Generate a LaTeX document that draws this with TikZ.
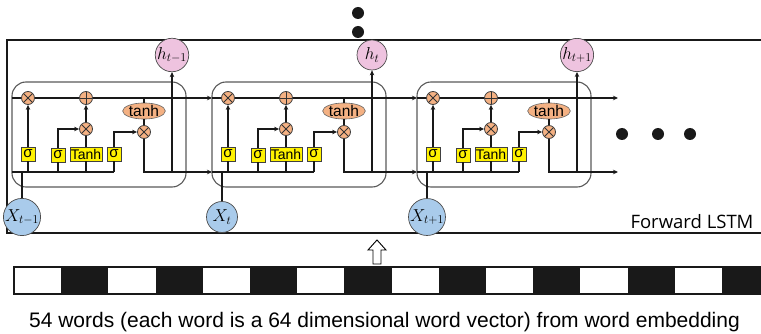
\documentclass[tikz,border=0pt]{standalone}
\usepackage{fontspec}
\setmainfont{Liberation Sans}
\newfontfamily\fwdfont{Open Sans}
\usetikzlibrary{arrows.meta,shapes.geometric}
\definecolor{orangec}{HTML}{F4B183}
\definecolor{gateyellow}{HTML}{FFF200}
\definecolor{hpink}{HTML}{EEC3DF}
\definecolor{xblue}{HTML}{A9CBEB}
\begin{document}
\begin{tikzpicture}[x=1pt,y=-1pt,
  flow/.style={line width=1.6pt, draw=black!90},
  arr/.style={flow, -{Stealth[length=5pt,width=4.5pt]}},
  cellbox/.style={draw=black!65, line width=1.1pt, rounded corners=14pt},
  mult/.style={circle, draw=black!75, line width=0.8pt, fill=orangec, minimum size=13pt, inner sep=0pt,
    path picture={\draw[black!80,line width=0.8pt] (path picture bounding box.north west)--(path picture bounding box.south east) (path picture bounding box.north east)--(path picture bounding box.south west);}},
  plusn/.style={circle, draw=black!75, line width=0.8pt, fill=orangec, minimum size=13pt, inner sep=0pt,
    path picture={\draw[black!80,line width=0.8pt] (path picture bounding box.north)--(path picture bounding box.south) (path picture bounding box.east)--(path picture bounding box.west);}},
  gate/.style={rectangle, draw=black!75, line width=0.8pt, fill=gateyellow, minimum height=14pt, minimum width=14pt, inner sep=0pt, font=\fontsize{15}{15}\selectfont},
  tanhn/.style={ellipse, draw=black!60, line width=0.6pt, fill=orangec, minimum width=39pt, minimum height=13pt, inner sep=0pt, font=\fontsize{15.5}{15.5}\selectfont},
  hnode/.style={circle, draw=black!70, line width=0.7pt, fill=hpink, minimum size=30pt, inner sep=0pt, font=\fontsize{17}{17}\selectfont},
  xnode/.style={circle, draw=black!70, line width=0.7pt, fill=xblue, minimum size=31pt, inner sep=0pt, font=\fontsize{18}{18}\selectfont},
  bigdot/.style={circle, fill=black!90, minimum size=12pt, inner sep=0pt}
]
\useasboundingbox (0,0) rectangle (761,334);
% outer frame
\draw[line width=1.3pt, draw=black!90] (7,40) rectangle (775,233);
% vertical dots
\node[bigdot] (vd1) at (358,13) {};
\node[bigdot] (vd2) at (358,32) {};
% horizontal dots
\node[bigdot] (hd1) at (622,134) {};
\node[bigdot] (hd2) at (658,134) {};
\node[bigdot] (hd3) at (690,134) {};
\node[anchor=base east, font=\fwdfont\fontsize{18.5}{18.5}\selectfont] (fwd) at (757,228.5) {Forward LSTM};

\foreach \i/\ox/\nx/\sub in {1/12/212/{t-1}, 2/212/417/{t}, 3/417/618/{t+1}} {
  \draw[cellbox] (\ox,82) rectangle ++(174,105);
  \node[mult] (f-\i) at (\ox+16,98) {};
  \node[plusn] (p-\i) at (\ox+74,98) {};
  \node[mult] (m-\i) at (\ox+74,129) {};
  \node[mult] (o-\i) at (\ox+132,132) {};
  \node[tanhn] (th-\i) at (\ox+132,111) {tanh};
  \node[gate] (g1-\i) at (\ox+16,154) {σ};
  \node[gate] (g2-\i) at (\ox+46,155) {σ};
  \node[gate, minimum width=32pt, font=\fontsize{14}{14}\selectfont] (tg-\i) at (\ox+74,154) {Tanh};
  \node[gate] (g3-\i) at (\ox+102,154) {σ};
  \node[hnode] (h-\i) at (\ox+160,55) {$h_{\sub}$};
  \node[xnode] (x-\i) at (\ox+10,217) {$X_{\sub}$};
  \coordinate (tl-\i) at (\ox,98);
  \coordinate (bl-\i) at (\ox,172);
  \coordinate (tn-\i) at (\nx,98);
  \coordinate (bn-\i) at (\nx,172);
  \coordinate (b3-\i) at (\ox+102,172);
  % cell state line
  \draw[flow] (tl-\i) -- (f-\i);
  \draw[flow] (f-\i) -- (p-\i);
  \draw[arr] (p-\i) -- (tn-\i);
  % hidden/input line
  \draw[flow] (bl-\i) -- (b3-\i);
  \draw[flow] (x-\i) -- (\ox+10,172);
  % gates
  \draw[flow] (\ox+16,172) -- (g1-\i.south);
  \draw[arr] (g1-\i) -- (f-\i);
  \draw[flow] (\ox+46,172) -- (g2-\i.south);
  \draw[arr] (g2-\i.north) |- (m-\i);
  \draw[flow] (\ox+74,172) -- (tg-\i.south);
  \draw[flow] (tg-\i) -- (m-\i);
  \draw[arr] (m-\i) -- (p-\i);
  \draw[flow] (b3-\i) -- (g3-\i.south);
  \draw[arr] (g3-\i.north) |- (o-\i);
  \draw[flow] (\ox+132,98) -- (th-\i);
  \draw[flow] (th-\i) -- (o-\i);
  \draw[arr] (o-\i) |- (bn-\i);
  \draw[arr] (\ox+160,172) -- (h-\i);
}
% input arrow
\draw[line width=0.9pt, fill=white] (373,264) -- (381,264) -- (381,250) -- (386,250) -- (377,240) -- (368,250) -- (373,250) -- cycle;
% word strip
\foreach \k in {1,3,...,15} \fill[black!90] (14+47.2*\k,267) rectangle ++(47.2,27);
\draw[line width=1.2pt, draw=black!90] (14,267) rectangle (775,294);
\node[anchor=base, font=\fontsize{21}{21}\selectfont] (cap) at (384.5,327) {54 words (each word is a 64 dimensional word vector) from word embedding};
\end{tikzpicture}
\end{document}
